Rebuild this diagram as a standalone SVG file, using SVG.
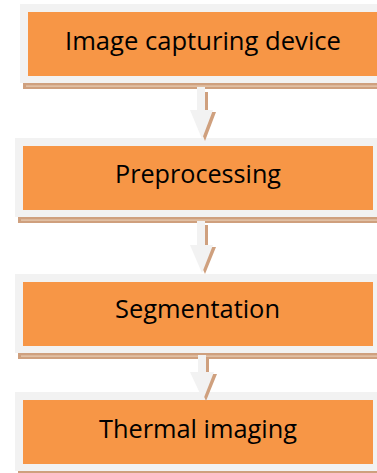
<svg xmlns="http://www.w3.org/2000/svg" width="377" height="473" viewBox="0 0 377 473">
  <defs>
    <style>
      .frame { fill: #F2F2F2; }
      .fill { fill: #F79646; }
      .shadow { fill: #CFA07E; }
      .shine { fill: #E9CDB6; }
      .label { font-family: "Open Sans", "Noto Sans", sans-serif; font-size: 25px; fill: #000000; text-anchor: middle; }
      .arrow { fill: #F2F2F2; }
      .arrow-shadow { fill: #CFA07E; }
    </style>
  </defs>
  <rect width="377" height="473" fill="#FFFFFF"/>

  <g id="node-capture">
    <rect class="shadow" x="23" y="9" width="370" height="80"/>
    <rect class="shine" x="26" y="85.5" width="366" height="1.2"/>
    <rect class="frame" x="20" y="4" width="370" height="79"/>
    <rect class="fill" x="28" y="12" width="350" height="64"/>
    <text class="label" x="203" y="50" textLength="276" lengthAdjust="spacingAndGlyphs">Image capturing device</text>
  </g>

  <g id="node-preprocessing">
    <rect class="shadow" x="18" y="143" width="370" height="80"/>
    <rect class="shine" x="21" y="219.5" width="366" height="1.2"/>
    <rect class="frame" x="15" y="138" width="370" height="79"/>
    <rect class="fill" x="23" y="146" width="350" height="64"/>
    <text class="label" x="198" y="183" textLength="166" lengthAdjust="spacingAndGlyphs">Preprocessing</text>
  </g>

  <g id="node-segmentation">
    <rect class="shadow" x="18" y="279" width="370" height="80"/>
    <rect class="shine" x="21" y="355.5" width="366" height="1.2"/>
    <rect class="frame" x="15" y="274" width="370" height="79"/>
    <rect class="fill" x="23" y="282" width="350" height="64"/>
    <text class="label" x="197.5" y="318" textLength="165" lengthAdjust="spacingAndGlyphs">Segmentation</text>
  </g>

  <g id="node-thermal">
    <rect class="shadow" x="18" y="397" width="370" height="80"/>
    <rect class="frame" x="15" y="392" width="370" height="79"/>
    <rect class="fill" x="23" y="400" width="350" height="64"/>
    <text class="label" x="198" y="438" textLength="198" lengthAdjust="spacingAndGlyphs">Thermal imaging</text>
  </g>

  <g id="connectors">
    <!-- capture to preprocessing -->
    <path class="arrow-shadow" d="M200 92 H208 V112 H216 L205 141 L193 112 H200 Z"/>
    <path class="arrow" d="M197 87 H205 V110 H213 L202 139 L190 110 H197 Z"/>
    <!-- preprocessing to segmentation -->
    <path class="arrow-shadow" d="M200 225 H208 V247 H216 L205 274 L193 247 H200 Z"/>
    <path class="arrow" d="M197 221 H205 V245 H213 L202 273 L190 245 H197 Z"/>
    <!-- segmentation to thermal imaging -->
    <path class="arrow-shadow" d="M201 358 H209 V374 H217 L206 401 L194 374 H201 Z"/>
    <path class="arrow" d="M198 355 H206 V372 H214 L203 400 L190 372 H198 Z"/>
  </g>
</svg>
